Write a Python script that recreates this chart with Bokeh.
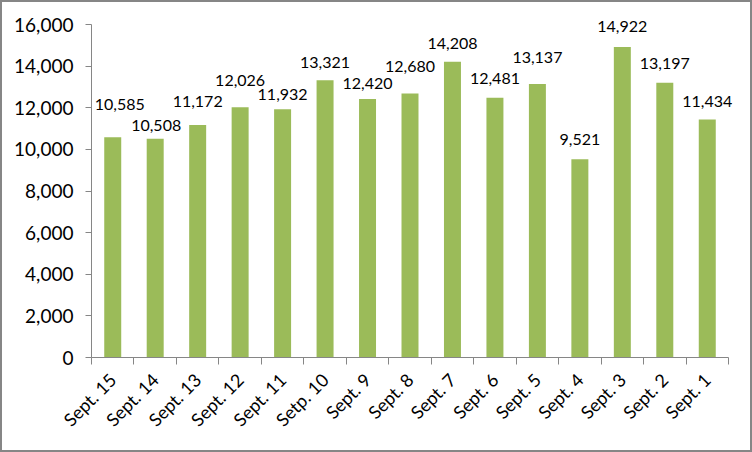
import math
from bokeh.plotting import figure
from bokeh.models import ColumnDataSource, FixedTicker, NumeralTickFormatter, Range1d, LabelSet
from bokeh.core.properties import value
from bokeh.embed import file_html
from bokeh.resources import INLINE

categories = ["Sept. 15", "Sept. 14", "Sept. 13", "Sept. 12", "Sept. 11", "Setp. 10",
              "Sept. 9", "Sept. 8", "Sept. 7", "Sept. 6", "Sept. 5", "Sept. 4",
              "Sept. 3", "Sept. 2", "Sept. 1"]
values = [10585, 10508, 11172, 12026, 11932, 13321, 12420, 12680, 14208, 12481,
          13137, 9521, 14922, 13197, 11434]
y_ticks = [0, 2000, 4000, 6000, 8000, 10000, 12000, 14000, 16000]

# data-label placement (pixels), staggered as in the original to avoid overlaps
label_dy = [33, 13, 23, 27, 15, 18, 16, 27, 18, 19, 27, 20, 20, 19, 18]
label_dx = [7, 1, 0, 0, 0, 0, 0, 0, 0, 0, 0, 0, 0, 0, 0]

FONT = "Lato"
GRAY = "#868686"
GREEN = "#9BBB59"

n = len(categories)
Y_MAX = 16000
xs = [i + 0.5 for i in range(n)]
src = ColumnDataSource(dict(x=xs, top=values, label=[f"{v:,}" for v in values],
                            dy=label_dy, dx=label_dx))

# layout (screen px): axis box from x=91..728, y=24 (16000) .. 357 (0);
# frame is a bit larger at top/right so data labels are not clipped
AX_L, AX_R, AX_T, AX_B = 91, 728, 24, 357
FR_T, FR_R = 12, 742
units_y = Y_MAX / (AX_B - AX_T)
units_x = n / (AX_R - AX_L)
y_end = Y_MAX + (AX_T - FR_T) * units_y
x_end = n + (FR_R - AX_R) * units_x

p = figure(width=752, height=452, output_backend="svg", toolbar_location=None,
           x_range=Range1d(0, x_end), y_range=Range1d(0, y_end),
           min_border_left=AX_L - 2, min_border_right=752 - (FR_R - 2),
           min_border_top=FR_T - 2, min_border_bottom=452 - (AX_B - 2))
p.styles = {"border": f"2px solid {GRAY}", "box-sizing": "border-box"}
p.outline_line_color = None
p.xgrid.grid_line_color = None
p.ygrid.grid_line_color = None
p.background_fill_color = "white"
p.border_fill_color = "white"

p.vbar(x="x", top="top", width=0.4, bottom=0, source=src, fill_color=GREEN, line_color=None)

labels = LabelSet(x="x", y="top", text="label", source=src, text_align="center",
                  text_baseline="middle", x_offset="dx", y_offset="dy",
                  text_font=value(FONT), text_font_size=value("16px"),
                  text_color="#000000")
p.add_layout(labels)

# y axis
yax = p.yaxis[0]
yax.ticker = FixedTicker(ticks=y_ticks)
yax.bounds = (0, Y_MAX)
yax.formatter = NumeralTickFormatter(format="0,0")
yax.major_label_text_font = FONT
yax.major_label_text_font_size = "19px"
yax.major_label_text_color = "#000000"
yax.axis_line_color = GRAY
yax.major_tick_line_color = GRAY
yax.major_tick_out = 6
yax.major_tick_in = 0
yax.minor_tick_line_color = None
yax.major_label_standoff = 12

# x axis
xax = p.xaxis[0]
xax.ticker = FixedTicker(ticks=xs, minor_ticks=list(range(n + 1)))
xax.bounds = (0, n)
xax.major_label_overrides = {x: c for x, c in zip(xs, categories)}
xax.major_label_orientation = math.pi / 4
xax.major_label_text_font = FONT
xax.major_label_text_font_size = "18px"
xax.major_label_text_color = "#000000"
xax.axis_line_color = GRAY
xax.major_tick_line_color = None
xax.minor_tick_line_color = GRAY
xax.minor_tick_out = 7
xax.minor_tick_in = 0
xax.major_label_standoff = 12

open("out.html", "w").write(file_html(p, INLINE))
